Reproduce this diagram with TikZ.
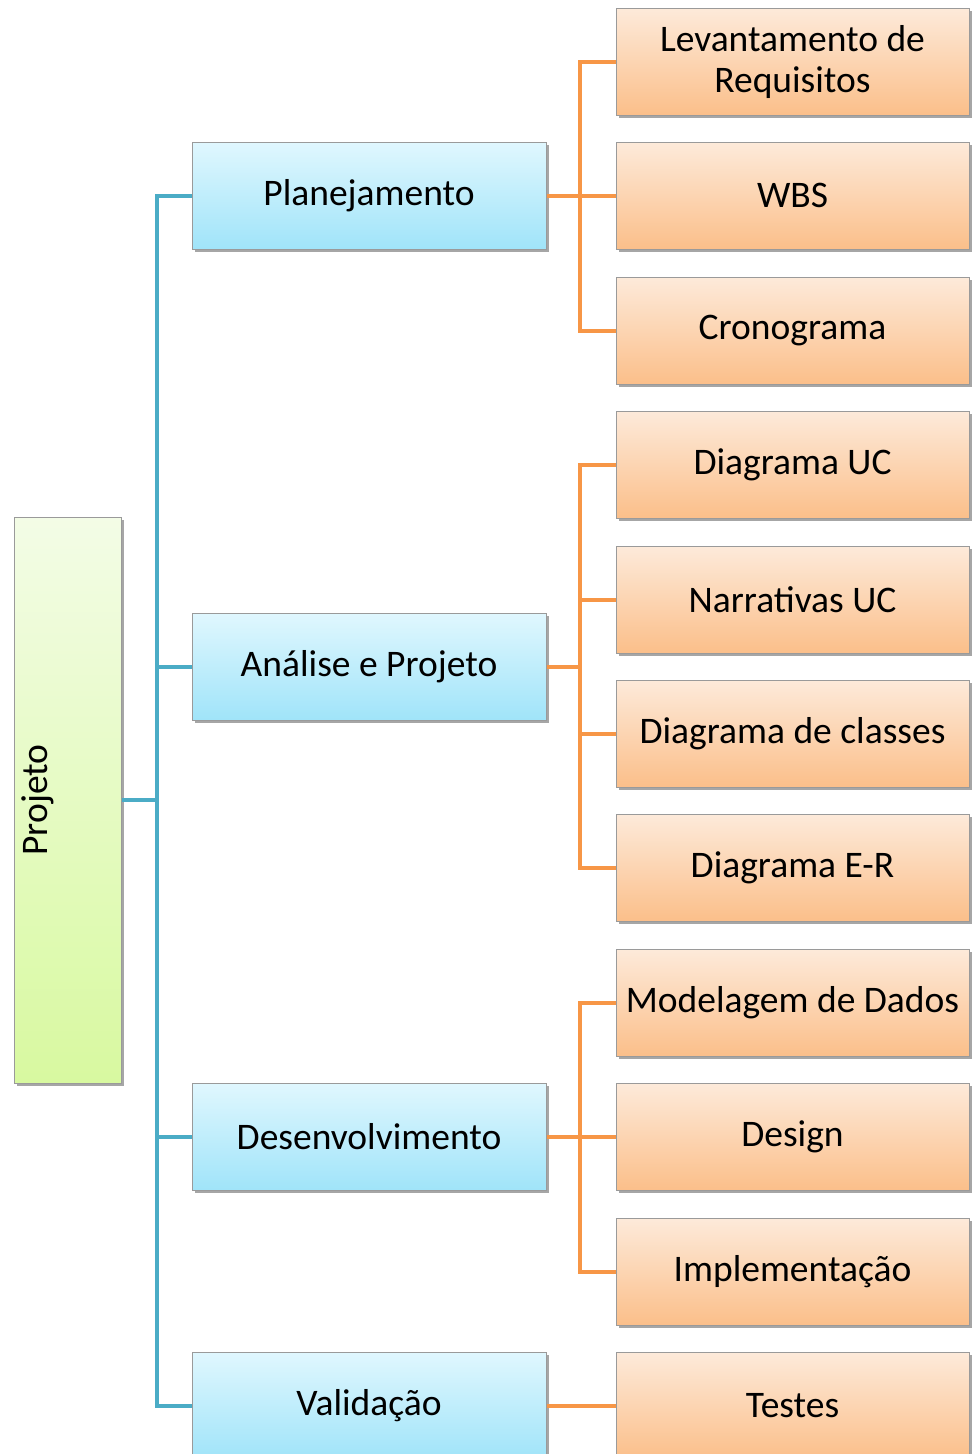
\documentclass[tikz,border=0pt]{standalone}
\usepackage{fontspec}
\setmainfont{Carlito}
\usetikzlibrary{shadows}
\definecolor{bluebus}{HTML}{4BACC6}
\definecolor{orangebus}{HTML}{F79646}
\definecolor{boxborder}{HTML}{9A9A9A}
\definecolor{bluetop}{RGB}{224,247,254}
\definecolor{bluebot}{RGB}{160,228,249}
\definecolor{orangetop}{RGB}{253,234,218}
\definecolor{orangebot}{RGB}{251,191,138}
\definecolor{greentop}{RGB}{243,252,230}
\definecolor{greenbot}{RGB}{216,249,160}
\tikzset{
  basebox/.style={draw=boxborder, line width=1pt, inner sep=0pt, align=center,
    font=\fontsize{37.5}{41}\selectfont,
    drop shadow={shadow xshift=2.5pt, shadow yshift=-3pt, fill=black, opacity=0.35}},
  bluebox/.style={basebox, minimum width=354pt, minimum height=107pt,
    top color=bluetop, bottom color=bluebot},
  orangebox/.style={basebox, minimum width=353pt, minimum height=107pt,
    top color=orangetop, bottom color=orangebot},
  greenbox/.style={basebox, minimum width=107pt, minimum height=566pt,
    top color=greentop, bottom color=greenbot},
  bline/.style={draw=bluebus, line width=4pt},
  oline/.style={draw=orangebus, line width=4pt},
}
\begin{document}
\begin{tikzpicture}[x=1pt,y=-1pt]
\useasboundingbox (0,0) rectangle (977,1454);
\clip (0,0) rectangle (977,1454);
% root
\node[greenbox] (proj) at (67.5,800) {};
\node[rotate=90, font=\fontsize{37.5}{41}\selectfont, inner sep=0pt] (projlbl) at (38,800) {Projeto};
% level 1
\node[bluebox] (plan) at (369,195.5) {Planejamento};
\node[bluebox] (ana) at (369,666.5) {Análise e Projeto};
\node[bluebox] (dev) at (369,1136.5) {Desenvolvimento};
\node[bluebox] (val) at (369,1405.5) {Validação};
% level 2
\node[orangebox] (lev) at (792.5,61.5) {Levantamento de\\Requisitos};
\node[orangebox] (wbs) at (792.5,195.5) {WBS};
\node[orangebox] (cro) at (792.5,330.5) {Cronograma};
\node[orangebox] (uc) at (792.5,464.5) {Diagrama UC};
\node[orangebox] (nar) at (792.5,599.5) {Narrativas UC};
\node[orangebox] (cla) at (792.5,733.5) {Diagrama de classes};
\node[orangebox] (er) at (792.5,867.5) {Diagrama E-R};
\node[orangebox] (mod) at (792.5,1002.5) {Modelagem de Dados};
\node[orangebox] (des) at (792.5,1136.5) {Design};
\node[orangebox] (imp) at (792.5,1271.5) {Implementação};
\node[orangebox] (tes) at (792.5,1405.5) {Testes};
% buses
\coordinate (bbus) at (157,800);
\coordinate (obus) at (580,800);
% blue connectors
\draw[bline] (proj.east) -- (bbus);
\draw[bline] (plan.west) -- (bbus |- plan.west) -- (bbus |- val.west) -- (val.west);
\draw[bline] (ana.west) -- (bbus |- ana.west);
\draw[bline] (dev.west) -- (bbus |- dev.west);
% orange connectors
\draw[oline] (lev.west) -- (obus |- lev.west) -- (obus |- cro.west) -- (cro.west);
\draw[oline] (plan.east) -- (wbs.west);
\draw[oline] (uc.west) -- (obus |- uc.west) -- (obus |- er.west) -- (er.west);
\draw[oline] (ana.east) -- (obus |- ana.east);
\draw[oline] (nar.west) -- (obus |- nar.west);
\draw[oline] (cla.west) -- (obus |- cla.west);
\draw[oline] (mod.west) -- (obus |- mod.west) -- (obus |- imp.west) -- (imp.west);
\draw[oline] (dev.east) -- (des.west);
\draw[oline] (val.east) -- (tes.west);
\end{tikzpicture}
\end{document}
